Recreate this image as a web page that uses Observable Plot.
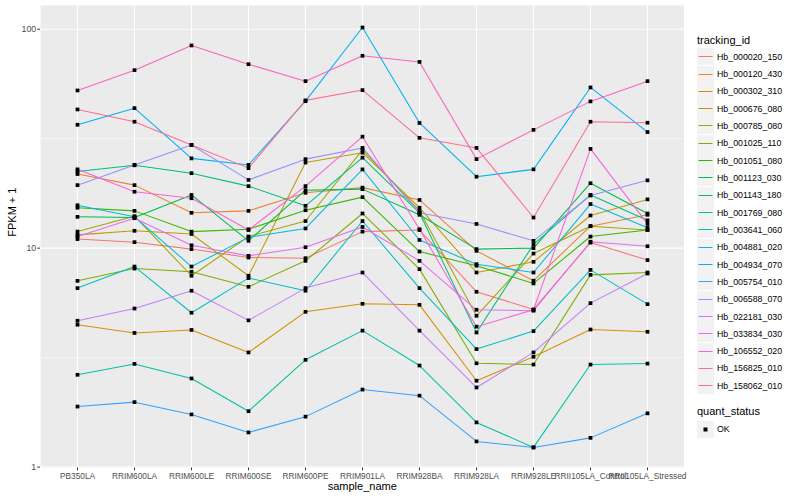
<!DOCTYPE html>
<html>
<head>
<meta charset="utf-8">
<script src="https://cdn.jsdelivr.net/npm/d3@7"></script>
<script src="https://cdn.jsdelivr.net/npm/@observablehq/plot@0.6"></script>
<style>
  html, body { margin: 0; padding: 0; background: #fff; overflow: hidden; }
  #wrap { position: relative; width: 800px; height: 500px; font-family: "Liberation Sans", Arial, Helvetica, sans-serif; }
  #chart { position: absolute; left: 0; top: 0; }
  #legend { position: absolute; left: 697px; top: 0; width: 103px; }
  .ltitle { position: absolute; left: 0; font-size: 11px; color: #000; white-space: nowrap; }
  .lrow { position: absolute; left: 0; height: 17px; display: flex; align-items: center; }
  .lkey { width: 17px; height: 17px; flex: none; display: block; }
  .llab { font-size: 8.8px; color: #000; margin-left: 3px; white-space: nowrap; }
</style>
</head>
<body>
<div id="wrap">
  <div id="chart"></div>
  <div id="legend"></div>
</div>
<script>
// ---- data ----
const samples = ["PB350LA","RRIM600LA","RRIM600LE","RRIM600SE","RRIM600PE","RRIM901LA","RRIM928BA","RRIM928LA","RRIM928LE","RRII105LA_Control","RRII105LA_Stressed"];

const trackingIds = ["Hb_000020_150","Hb_000120_430","Hb_000302_310","Hb_000676_080","Hb_000785_080","Hb_001025_110","Hb_001051_080","Hb_001123_030","Hb_001143_180","Hb_001769_080","Hb_003641_060","Hb_004881_020","Hb_004934_070","Hb_005754_010","Hb_006588_070","Hb_022181_030","Hb_033834_030","Hb_106552_020","Hb_156825_010","Hb_158062_010"];

const hueColors = ["#F8766D","#EA8331","#D89000","#C09B00","#A3A500","#7CAE00","#39B600","#00BB4E","#00BF7D","#00C1A3","#00BFC4","#00BAE0","#00B0F6","#35A2FF","#9590FF","#C77CFF","#E76BF3","#FA62DB","#FF62BC","#FF6C91"];

// FPKM + 1 per sample (same order as samples)
const Hb_000020_150 = [11.0, 10.65, 9.90, 9.06, 9.00, 11.9, 12.1, 6.32, 5.25, 10.6, 8.82];
const Hb_000120_430 = [21.8, 19.4, 14.5, 14.8, 17.9, 18.9, 16.6, 9.72, 7.10, 12.6, 14.2];
const Hb_000302_310 = [4.47, 4.10, 4.23, 3.34, 5.12, 5.57, 5.51, 2.48, 3.19, 4.25, 4.15];
const Hb_000676_080 = [11.5, 12.0, 11.6, 7.48, 24.6, 27.3, 15.3, 7.74, 8.66, 14.1, 16.7];
const Hb_000785_080 = [11.9, 14.0, 7.48, 11.3, 13.3, 28.1, 14.8, 4.91, 9.45, 12.6, 12.1];
const Hb_001025_110 = [7.09, 8.07, 7.80, 6.66, 8.75, 14.4, 8.02, 2.98, 2.94, 7.55, 7.74];
const Hb_001051_080 = [15.3, 14.8, 11.9, 12.2, 14.9, 17.1, 9.65, 8.31, 6.90, 11.3, 12.1];
const Hb_001123_030 = [13.9, 13.8, 17.5, 10.8, 18.4, 18.6, 14.2, 9.90, 10.0, 19.8, 14.4];
const Hb_001143_180 = [22.4, 23.9, 22.0, 19.2, 15.6, 25.9, 14.5, 4.12, 10.4, 17.5, 13.4];
const Hb_001769_080 = [2.64, 2.96, 2.54, 1.80, 3.09, 4.20, 2.91, 1.60, 1.23, 2.94, 2.97];
const Hb_003641_060 = [6.57, 8.24, 5.07, 7.30, 6.39, 13.3, 6.57, 3.46, 4.18, 7.96, 5.55];
const Hb_004881_020 = [15.7, 13.9, 8.24, 11.2, 12.3, 22.9, 10.9, 8.45, 7.74, 15.9, 12.4];
const Hb_004934_070 = [36.6, 43.6, 25.7, 24.0, 46.9, 101.8, 37.3, 21.2, 22.9, 54.2, 33.9];
const Hb_005754_010 = [1.89, 1.98, 1.74, 1.44, 1.70, 2.26, 2.12, 1.31, 1.23, 1.36, 1.76];
const Hb_006588_070 = [19.4, 24.0, 29.6, 20.5, 25.5, 28.7, 14.5, 12.9, 10.8, 17.4, 20.4];
const Hb_022181_030 = [4.66, 5.30, 6.39, 4.68, 6.57, 7.74, 4.20, 2.31, 3.34, 5.61, 7.66];
const Hb_033834_030 = [11.3, 13.7, 10.3, 9.22, 10.1, 12.5, 8.75, 5.23, 5.18, 10.7, 10.2];
const Hb_106552_020 = [22.9, 18.1, 16.9, 12.1, 19.2, 32.3, 12.2, 4.38, 5.23, 28.4, 12.9];
const Hb_156825_010 = [52.5, 65.0, 84.3, 69.2, 57.9, 75.6, 70.9, 25.5, 34.7, 46.8, 57.9];
const Hb_158062_010 = [43.0, 37.8, 29.6, 23.2, 47.3, 52.7, 31.9, 28.7, 13.8, 37.8, 37.4];

const seriesValues = [Hb_000020_150, Hb_000120_430, Hb_000302_310, Hb_000676_080, Hb_000785_080, Hb_001025_110, Hb_001051_080, Hb_001123_030, Hb_001143_180, Hb_001769_080, Hb_003641_060, Hb_004881_020, Hb_004934_070, Hb_005754_010, Hb_006588_070, Hb_022181_030, Hb_033834_030, Hb_106552_020, Hb_156825_010, Hb_158062_010];

const yTicks = [1, 10, 100];
const yMinor = [Math.sqrt(10), Math.sqrt(1000)];

// ---- table ----
const rows = [];
trackingIds.forEach((id, i) => {
  seriesValues[i].forEach((v, j) => rows.push({tracking_id: id, sample_name: samples[j], fpkm1: v, quant_status: "OK"}));
});

const textColor = "#4D4D4D";
const plot = Plot.plot({
  width: 690,
  height: 500,
  marginLeft: 40,
  marginRight: 6.5,
  marginTop: 5,
  marginBottom: 32.5,
  style: {fontFamily: '"Liberation Sans", Arial, Helvetica, sans-serif', background: "transparent"},
  x: {type: "point", domain: samples, padding: 0.6},
  y: {type: "log", domain: [0.9906, 128.3]},
  color: {domain: trackingIds, range: hueColors},
  marks: [
    Plot.frame({fill: "#EBEBEB", stroke: "none"}),
    Plot.ruleY(yMinor, {stroke: "white", strokeWidth: 0.55}),
    Plot.ruleY(yTicks, {stroke: "white", strokeWidth: 1.1}),
    Plot.ruleX(samples, {stroke: "white", strokeWidth: 1.1}),
    Plot.line(rows, {x: "sample_name", y: "fpkm1", z: "tracking_id", stroke: "tracking_id", strokeWidth: 1.05}),
    Plot.dot(rows, {x: "sample_name", y: "fpkm1", symbol: "square", r: 2.1, fill: "black", stroke: "none"}),
    Plot.axisY({ticks: yTicks, tickFormat: d => String(d), tickSize: 2.75, tickPadding: 1.5, fontSize: 8.8, fill: textColor, stroke: "#333333", label: null}),
    Plot.axisX({tickSize: 2.75, tickPadding: 2, fontSize: 8.3, fill: textColor, stroke: "#333333", label: null}),
    Plot.text(["FPKM + 1"], {frameAnchor: "left", dx: -28, rotate: -90, fontSize: 11, fill: "black"}),
    Plot.text(["sample_name"], {frameAnchor: "bottom", dy: 21.5, fontSize: 11, fill: "black"})
  ]
});
document.getElementById("chart").appendChild(plot);

// ---- legend ----
const legend = document.getElementById("legend");
const t1 = document.createElement("div");
t1.className = "ltitle"; t1.textContent = "tracking_id"; t1.style.top = "34px";
legend.appendChild(t1);
trackingIds.forEach((id, i) => {
  const row = document.createElement("div");
  row.className = "lrow";
  row.style.top = (48.2 + i * 17.32) + "px";
  row.innerHTML = `<svg class="lkey" width="17" height="17"><rect width="17" height="17" fill="#F2F2F2"/><line x1="1.5" x2="15.5" y1="8.5" y2="8.5" stroke="${hueColors[i]}" stroke-width="1"/></svg><div class="llab">${id}</div>`;
  legend.appendChild(row);
});
const t2 = document.createElement("div");
t2.className = "ltitle"; t2.textContent = "quant_status"; t2.style.top = "405px";
legend.appendChild(t2);
const row2 = document.createElement("div");
row2.className = "lrow"; row2.style.top = "420.5px";
row2.innerHTML = `<svg class="lkey" width="17" height="17"><rect width="17" height="17" fill="#F2F2F2"/><rect x="6.5" y="6.5" width="4" height="4" fill="#000"/></svg><div class="llab">OK</div>`;
legend.appendChild(row2);
</script>
</body>
</html>
